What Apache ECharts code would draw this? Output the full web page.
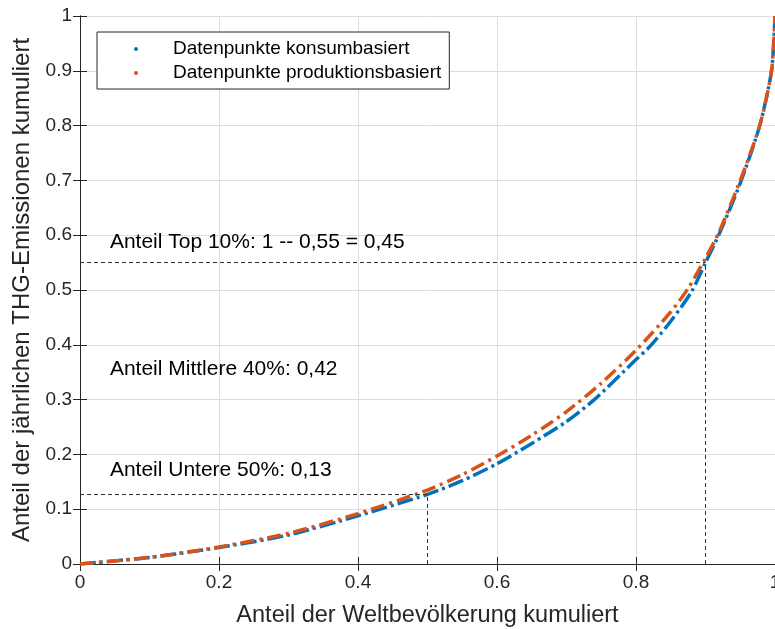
<!DOCTYPE html>
<html>
<head>
<meta charset="utf-8">
<script src="https://cdn.jsdelivr.net/npm/echarts@6/dist/echarts.min.js"></script>
<style>
  html, body { margin: 0; padding: 0; background: #fff; }
  #chart { width: 775px; height: 629px; }
</style>
</head>
<body>
<div id="chart"></div>
<script>
// Lorenzkurve der THG-Emissionen
var xKonsum = [0, 0.1, 0.2, 0.3, 0.4, 0.5, 0.55, 0.6, 0.65, 0.7, 0.74, 0.8, 0.82, 0.85, 0.88, 0.9, 0.92, 0.95, 0.978, 0.995, 1];
var yKonsum = [0, 0.012, 0.03, 0.053, 0.088, 0.127, 0.152, 0.183, 0.22, 0.26, 0.3, 0.373, 0.397, 0.443, 0.497, 0.55, 0.603, 0.695, 0.8, 0.9, 1];

var xProd = [0, 0.1, 0.2, 0.3, 0.4, 0.5, 0.55, 0.6, 0.65, 0.7, 0.75, 0.8, 0.85, 0.875, 0.9, 0.92, 0.95, 0.978, 0.995, 1];
var yProd = [0, 0.012, 0.031, 0.056, 0.092, 0.135, 0.163, 0.197, 0.235, 0.278, 0.33, 0.39, 0.46, 0.503, 0.558, 0.607, 0.7, 0.8, 0.9, 1];

// Hilfslinien: Bevölkerungsanteil -> Emissionsanteil
var refX = [0.5, 0.9];
var refY = [0.128, 0.55];

var annoText = ['Anteil Top 10%: 1 -- 0,55 = 0,45', 'Anteil Mittlere 40%: 0,42', 'Anteil Untere 50%: 0,13'];
var annoY = [0.588, 0.356, 0.1715];
var annoX = 0.043;

var xTicks = ['0', '0.2', '0.4', '0.6', '0.8', '1'];
var yTicks = ['0', '0.1', '0.2', '0.3', '0.4', '0.5', '0.6', '0.7', '0.8', '0.9', '1'];

var font = 'Liberation Sans, Arial, sans-serif';
var axisColor = '#262626';

function pairs(xs, ys) {
    return xs.map(function (x, i) { return [x, ys[i]]; });
}

var refLines = [];
refX.forEach(function (x, i) {
    refLines.push([{ coord: [0, refY[i]] }, { coord: [x, refY[i]] }]);
    refLines.push([{ coord: [x, 0] }, { coord: [x, refY[i]] }]);
});

var chart = echarts.init(document.getElementById('chart'));

function boxAxis(pos, isX) {
    return {
        type: 'value', position: pos, min: 0, max: 1,
        interval: isX ? 0.2 : 0.1,
        axisLine: { show: true, lineStyle: { color: axisColor, width: 1 } },
        axisTick: { show: true, inside: true, length: 7, lineStyle: { color: axisColor } },
        axisLabel: { show: false },
        splitLine: { show: false }
    };
}

var option = {
    backgroundColor: '#fff',
    animation: false,
    grid: { left: 80, right: 0, top: 16, bottom: 65, containLabel: false, outerBoundsMode: 'none' },
    legend: {
        orient: 'vertical',
        left: 97, top: 32,
        padding: [7, 8, 6, 37],
        itemGap: 4,
        itemWidth: 4, itemHeight: 4,
        icon: 'circle',
        backgroundColor: '#fff',
        borderColor: axisColor,
        borderWidth: 1,
        borderRadius: 0,
        textStyle: { fontFamily: font, fontSize: 19, color: '#000', lineHeight: 20, padding: [0, 0, 0, 30] },
        data: ['Datenpunkte konsumbasiert', 'Datenpunkte produktionsbasiert']
    },
    xAxis: [{
        type: 'value', min: 0, max: 1, interval: 0.2,
        name: 'Anteil der Weltbevölkerung kumuliert',
        nameLocation: 'middle', nameGap: 40,
        nameTextStyle: { fontFamily: font, fontSize: 23.5, color: axisColor },
        axisLine: { show: true, lineStyle: { color: axisColor, width: 1 } },
        axisTick: { show: true, inside: true, length: 7, lineStyle: { color: axisColor } },
        axisLabel: {
            fontFamily: font, fontSize: 19, color: axisColor, margin: 9,
            formatter: function (v) { return xTicks[Math.round(v / 0.2)]; }
        },
        splitLine: { show: true, lineStyle: { color: '#dedede', width: 1 } }
    }, boxAxis('top', true)],
    yAxis: [{
        type: 'value', min: 0, max: 1, interval: 0.1,
        name: 'Anteil der jährlichen THG-Emissionen kumuliert',
        nameLocation: 'middle', nameGap: 43,
        nameTextStyle: { fontFamily: font, fontSize: 24, color: axisColor },
        axisLine: { show: true, lineStyle: { color: axisColor, width: 1 } },
        axisTick: { show: true, inside: true, length: 7, lineStyle: { color: axisColor } },
        axisLabel: {
            fontFamily: font, fontSize: 19, color: axisColor, margin: 8,
            formatter: function (v) { return yTicks[Math.round(v / 0.1)]; }
        },
        splitLine: { show: true, lineStyle: { color: '#dedede', width: 1 } }
    }, boxAxis('right', false)],
    series: [{
        name: 'Datenpunkte konsumbasiert',
        type: 'line',
        data: pairs(xKonsum, yKonsum),
        smooth: 0.25,
        showSymbol: false,
        color: '#0072BD',
        lineStyle: { color: '#0072BD', width: 3.5, type: [16, 4, 3, 4], cap: 'butt' },
        z: 3,
        markLine: {
            silent: true, symbol: ['none', 'none'], animation: false,
            label: { show: false },
            lineStyle: { color: '#333', width: 1, type: [4, 3] },
            data: refLines
        }
    }, {
        name: 'Datenpunkte produktionsbasiert',
        type: 'line',
        data: pairs(xProd, yProd),
        smooth: 0.25,
        showSymbol: false,
        color: '#D95319',
        lineStyle: { color: '#D95319', width: 3.5, type: [14, 5, 3, 5], cap: 'butt' },
        z: 4
    }]
};

chart.setOption(option);

// Beschriftungen im Diagramm
var texts = annoText.map(function (t, i) {
    var p = chart.convertToPixel({ gridIndex: 0 }, [annoX, annoY[i]]);
    return {
        type: 'text', x: p[0], y: p[1], z: 10,
        style: { text: t, fontFamily: font, fontSize: 21, fill: '#000', verticalAlign: 'middle', align: 'left' }
    };
});
chart.setOption({ graphic: texts });
</script>
</body>
</html>
